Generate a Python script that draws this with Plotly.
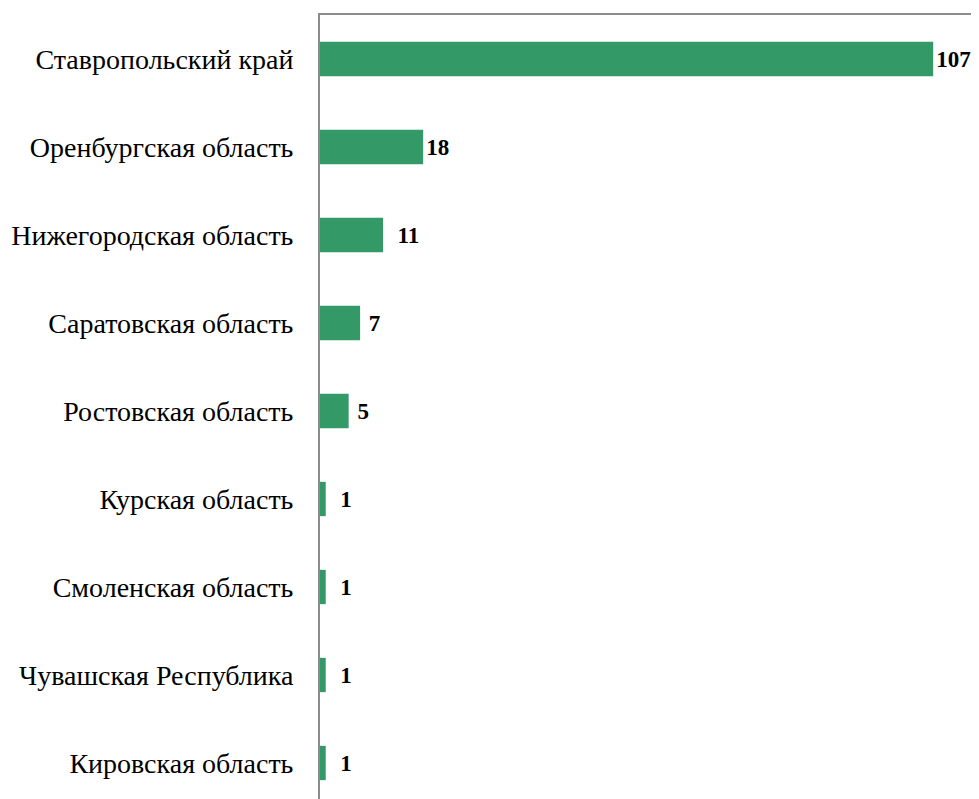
import plotly.graph_objects as go

regions = [
    "Ставропольский край",
    "Оренбургская область",
    "Нижегородская область",
    "Саратовская область",
    "Ростовская область",
    "Курская область",
    "Смоленская область",
    "Чувашская Республика",
    "Кировская область",
]
values = [107, 18, 11, 7, 5, 1, 1, 1, 1]
value_labels = ["107", "18", "  11", " 7", " 5", "  1", "  1", "  1", "  1"]

fig = go.Figure(
    go.Bar(
        x=values,
        y=regions,
        orientation="h",
        marker=dict(color="#339966", line=dict(width=0)),
        width=0.39,
        text=value_labels,
        textposition="outside",
        cliponaxis=False,
        textfont=dict(family="Liberation Serif", size=23, color="black", weight="bold"),
    )
)

fig.update_layout(
    width=963,
    height=799,
    margin=dict(l=312, r=0, t=7, b=0),
    paper_bgcolor="white",
    plot_bgcolor="white",
    showlegend=False,
    font=dict(family="Liberation Serif", size=28, color="black"),
    xaxis=dict(
        range=[0, 113.6],
        side="top",
        showline=True,
        linecolor="#8c8c8c",
        linewidth=2,
        showgrid=False,
        zeroline=False,
        showticklabels=False,
        ticks="",
    ),
    yaxis=dict(
        range=[8.5, -0.5],
        showline=True,
        linecolor="#8c8c8c",
        linewidth=2,
        showgrid=False,
        zeroline=False,
        ticks="",
        ticklabelstandoff=19,
        tickfont=dict(family="Liberation Serif", size=28, color="black"),
    ),
)

fig.write_html("out.html")
